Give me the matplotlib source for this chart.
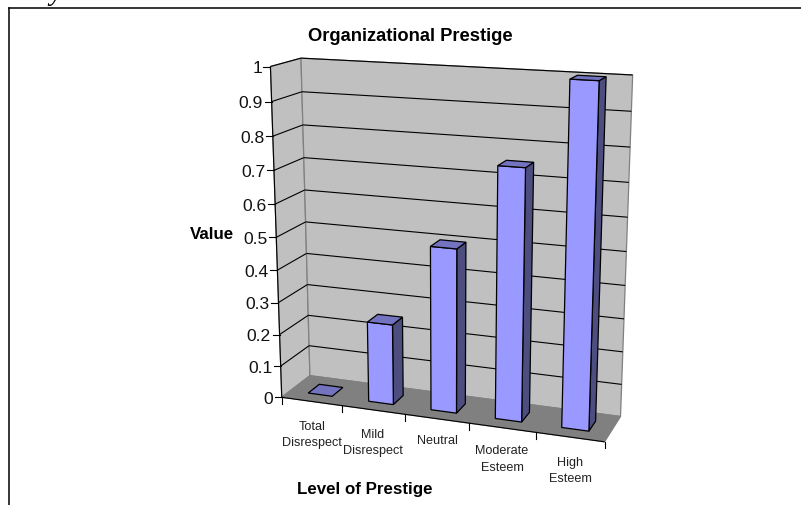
import numpy as np
import matplotlib
matplotlib.use("Agg")
import matplotlib.pyplot as plt
from matplotlib.patches import Polygon

categories = ["Total\nDisrespect", "Mild\nDisrespect", "Neutral", "Moderate\nEsteem", "High\nEsteem"]
values = [0.0, 0.25, 0.5, 0.75, 1.0]
value_ticks = [0, 0.1, 0.2, 0.3, 0.4, 0.5, 0.6, 0.7, 0.8, 0.9, 1]
value_tick_labels = ["0", "0.1", "0.2", "0.3", "0.4", "0.5", "0.6", "0.7", "0.8", "0.9", "1"]

W, H = 801, 506
plt.rcParams["font.family"] = ["Liberation Sans", "DejaVu Sans"]
fig = plt.figure(figsize=(W / 100, H / 100), dpi=100)
ax = fig.add_axes([0, 0, 1, 1])
ax.set_xlim(0, W)
ax.set_ylim(H, 0)
ax.axis("off")

# Calibrate a 3D perspective camera: (category, value, depth) -> canvas pixels
calib_world = [(0, 0, 0), (0, 1, 0), (0, 0, 1), (0, 1, 1), (5, 0, 1), (5, 1, 1), (5, 0, 0)]
calib_px = [(281.7, 398.3), (270.7, 67.3), (310, 376.7), (300.7, 59.3),
            (620.7, 417.3), (632.7, 76), (604.3, 443)]
rows = []
for (X, Y, Z), (u, v) in zip(calib_world, calib_px):
    rows.append([X, Y, Z, 1, 0, 0, 0, 0, -u * X, -u * Y, -u * Z, -u])
    rows.append([0, 0, 0, 0, X, Y, Z, 1, -v * X, -v * Y, -v * Z, -v])
P = np.linalg.svd(np.array(rows, float))[2][-1].reshape(3, 4)


def pr(x, y, z):
    q = P @ np.array([x, y, z, 1.0])
    return q[0] / q[2], q[1] / q[2]


def face(pts, color, edge="black", lw=0.9, zorder=2):
    ax.add_patch(Polygon([pr(*p) for p in pts], closed=True, facecolor=color,
                         edgecolor=edge, linewidth=lw, joinstyle="miter", zorder=zorder))


def seg(a, b, color="black", lw=0.8, zorder=2):
    (x0, y0), (x1, y1) = pr(*a), pr(*b)
    ax.plot([x0, x1], [y0, y1], color=color, lw=lw, zorder=zorder, solid_capstyle="butt")


# Chart frame
ax.plot([9, 9], [H, 9], color="black", lw=1.1, zorder=1)
ax.plot([9, W], [9, 9], color="black", lw=1.1, zorder=1)
ax.text(58, -6.5, "y.", fontsize=20, family="Liberation Serif", style="italic", ha="center", va="center", clip_on=False)

# Walls and floor
n = len(categories)
face([(0, 0, 0), (0, 1, 0), (0, 1, 1), (0, 0, 1)], "#C0C0C0", edge="#808080", zorder=1)
face([(0, 0, 1), (0, 1, 1), (n, 1, 1), (n, 0, 1)], "#C0C0C0", edge="#808080", zorder=1)
face([(0, 0, 0), (0, 0, 1), (n, 0, 1), (n, 0, 0)], "#808080", edge="#808080", zorder=1.1)

# Gridlines, axis lines and ticks
for t, lab in zip(value_ticks, value_tick_labels):
    if t > 0:
        seg((0, t, 0), (0, t, 1), zorder=1.5)
        seg((0, t, 1), (n, t, 1), zorder=1.5)
    x0, y0 = pr(0, t, 0)
    ax.plot([x0 - 7, x0], [y0, y0], color="black", lw=0.8, zorder=1.5)
    ax.text(x0 - 8.5, y0 + 1.3, lab, ha="right", va="center", fontsize=12.6, color="#111111")
seg((0, 0, 0), (0, 1, 0), zorder=1.6)
seg((0, 0, 0), (n, 0, 0), zorder=1.6)
for i in range(n + 1):
    x0, y0 = pr(i, 0, 0)
    ax.plot([x0, x0], [y0, y0 + 6.5], color="black", lw=0.8, zorder=1.5)

# Bars, from the back-most outward
bw, bd = 0.40, 0.40
for i, v in enumerate(values):
    x0, x1 = i + 0.5 - bw / 2, i + 0.5 + bw / 2
    z0, z1 = 0.5 - bd / 2, 0.5 + bd / 2
    zo = 3 + i * 0.01
    if v > 0:
        face([(x1, 0, z0), (x1, v, z0), (x1, v, z1), (x1, 0, z1)], "#4D4D80", zorder=zo)
        face([(x0, 0, z0), (x0, v, z0), (x1, v, z0), (x1, 0, z0)], "#9999FF", zorder=zo)
    face([(x0, v, z0), (x1, v, z0), (x1, v, z1), (x0, v, z1)], "#7373BF", zorder=zo)

# Text
label_pos = [(312, 435), (372.5, 443), (437, 441.5), (502, 459.5), (570.5, 471)]
for (lx, ly), lab in zip(label_pos, categories):
    ax.text(lx, ly, lab, ha="center", va="center", fontsize=9.1, color="#222222", linespacing=1.5)
ax.text(410.5, 36, "Organizational Prestige", ha="center", va="center", fontsize=13.2, fontweight="bold")
ax.text(212, 234.5, "Value", ha="center", va="center", fontsize=12.2, fontweight="bold")
ax.text(364.5, 489.5, "Level of Prestige", ha="center", va="center", fontsize=12.2, fontweight="bold")

fig.savefig("out.png", dpi=100)
